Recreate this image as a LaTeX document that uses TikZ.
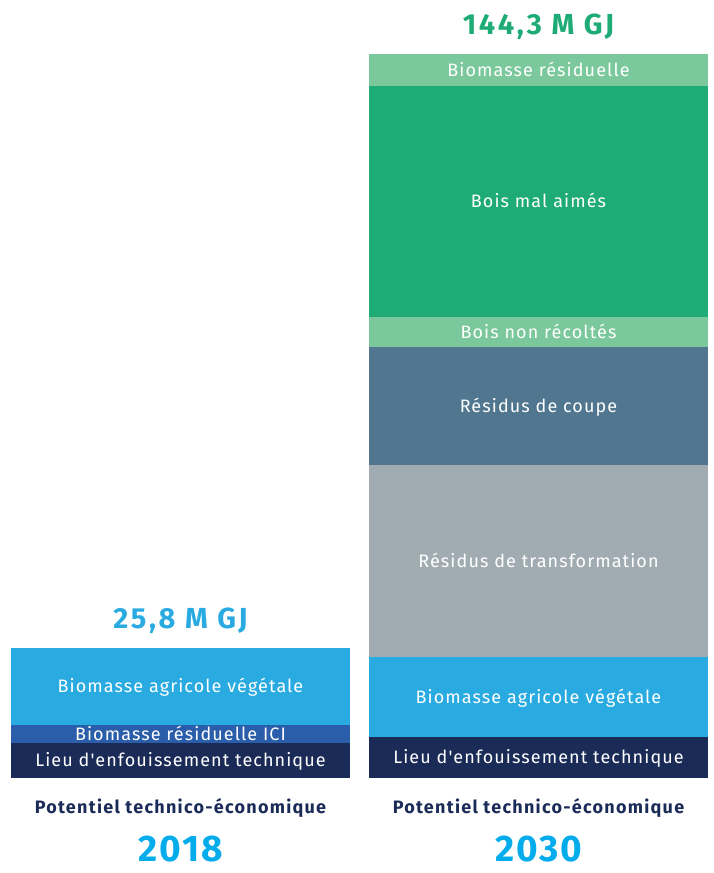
\documentclass[tikz,border=0pt]{standalone}
\usepackage{fontspec}
\setmainfont{Fira Sans}
\newfontfamily\segfont{Fira Sans}[LetterSpace=6, Ligatures=TeXOff]
\newfontfamily\totalfont{Fira Sans}[LetterSpace=9]
\newfontfamily\potfont{Fira Sans}[LetterSpace=7]
\newfontfamily\yearfont{Fira Sans}[LetterSpace=5]
\usetikzlibrary{positioning}

\definecolor{agri}{HTML}{29ABE2}
\definecolor{ici}{HTML}{2A5DAA}
\definecolor{let}{HTML}{1B2B57}
\definecolor{vert}{HTML}{1EAB75}
\definecolor{vertclair}{HTML}{7AC89B}
\definecolor{coupe}{HTML}{50778F}
\definecolor{transf}{HTML}{A1ACB2}
\definecolor{annee}{HTML}{04ACEC}

\tikzset{
  seg/.style={rectangle, inner sep=0pt, outer sep=0pt, minimum width=339pt,
    text height=14pt, text depth=2pt,
    text=white, font=\segfont\fontsize{18}{20}\selectfont},
  total/.style={inner sep=0pt, outer sep=0pt, font=\totalfont\fontsize{29}{30}\selectfont\bfseries},
  potentiel/.style={inner sep=0pt, outer sep=0pt, text=let,
    font=\potfont\fontsize{18}{20}\selectfont\bfseries},
  year/.style={inner sep=0pt, outer sep=0pt, text=annee,
    font=\yearfont\fontsize{37}{40}\selectfont\bfseries}
}

\begin{document}
\begin{tikzpicture}[x=1pt, y=-1pt, node distance=0pt]
\useasboundingbox (0,0) rectangle (713,873);

% 2018
\node[seg, fill=let, minimum height=35pt, anchor=south] (let18) at (180.5,778) {Lieu d'enfouissement technique};
\node[seg, fill=ici, minimum height=18pt, above=of let18] (ici18) {Biomasse résiduelle ICI};
\node[seg, fill=agri, minimum height=77pt, above=of ici18] (agri18) {Biomasse agricole végétale};
\node[total, text=agri, above=14pt of agri18] (tot18) {25,8 M GJ};
\node[potentiel, below=20pt of let18] (pot18) {Potentiel technico-économique};
\node[year, below=19pt of pot18] (an18) {2018};

% 2030
\node[seg, fill=let, minimum height=41pt, anchor=south] (let30) at (538.5,778) {Lieu d'enfouissement technique};
\node[seg, fill=agri, minimum height=80pt, above=of let30] (agri30) {Biomasse agricole végétale};
\node[seg, fill=transf, minimum height=192pt, above=of agri30] (transf30) {Résidus de transformation};
\node[seg, fill=coupe, minimum height=118pt, above=of transf30] (coupe30) {Résidus de coupe};
\node[seg, fill=vertclair, minimum height=30pt, above=of coupe30] (nonrec30) {Bois non récoltés};
\node[seg, fill=vert, minimum height=231pt, above=of nonrec30] (malaime30) {Bois mal aimés};
\node[seg, fill=vertclair, minimum height=32pt, above=of malaime30] (resid30) {Biomasse résiduelle};
\node[total, text=vert, above=14pt of resid30] (tot30) {144,3 M GJ};
\node[potentiel, below=20pt of let30] (pot30) {Potentiel technico-économique};
\node[year, below=19pt of pot30] (an30) {2030};
\end{tikzpicture}
\end{document}
